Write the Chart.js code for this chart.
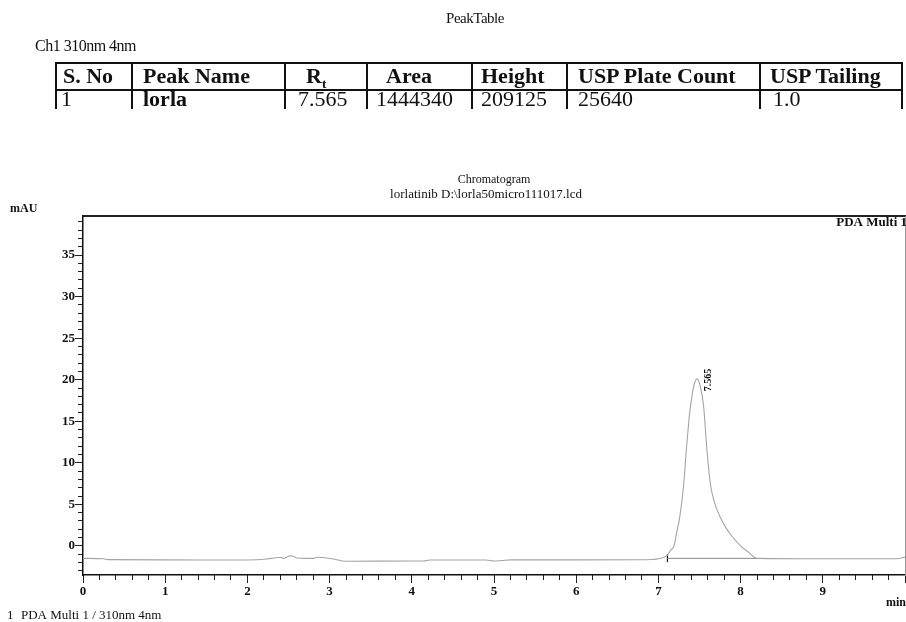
<!DOCTYPE html>
<html lang="en">
<head>
<meta charset="utf-8">
<title>PeakTable / Chromatogram</title>
<style>
body { margin: 0; background: #fff; }
#wrap { position: relative; width: 906px; height: 622px; overflow: hidden; font-family: "Liberation Serif", serif; color: #111; }
#canvas { position: absolute; left: 0; top: 0; }
.cap { position: absolute; white-space: nowrap; }
.sx { display: inline-block; transform: scaleX(1.1); transform-origin: left center; }
table { position: absolute; left: 55px; top: 62px; border-collapse: collapse; table-layout: fixed; width: 846px; }
td { box-sizing: border-box; border-left: 2px solid #111; border-right: 2px solid #111; padding: 0; white-space: nowrap; }
td div { overflow: hidden; }
tr.head td { font-size: 20px; font-weight: bold; border-top: 2px solid #111; border-bottom: 2px solid #111; }
tr.head div { height: 25px; line-height: 25px; }
tr.row td { font-size: 20px; }
tr.row div { height: 18px; line-height: 16px; }
sub { font-size: 12px; line-height: 0; }
</style>
</head>
<body>
<div id="wrap">
<canvas id="canvas" width="906" height="622"></canvas>
<div class="cap" style="left:0;width:950px;top:10px;text-align:center;font-size:15px;letter-spacing:-0.5px">PeakTable</div>
<div class="cap" style="left:35px;top:37px;font-size:16px;letter-spacing:-0.5px">Ch1 310nm 4nm</div>
<table id="peaks"></table>
</div>
<script src="https://cdn.jsdelivr.net/npm/chart.js"></script>
<script>

// peak table
let COLUMNS = ["S. No", "Peak Name", "R<sub>t</sub>", "Area", "Height", "USP Plate Count", "USP Tailing"]
let PEAK_ROW = ["1", "<b>lorla</b>", "7.565", "1444340", "209125", "25640", "1.0"]
let COL_WIDTHS = [76, 153, 82, 105, 95, 193, 142]
let COL_PADS = [6, 10, 20, 18, 8, 10, 9]
let ROW_PADS = [4, 10, 12, 8, 8, 10, 12]

// chromatogram trace (min, mAU)
let TIMES = [0, 0.25, 0.3, 1.0, 2.0, 2.24, 2.32, 2.4, 2.44, 2.48, 2.52, 2.56, 2.6, 2.7, 2.8, 2.86, 2.92, 3.05, 3.19, 4.0, 4.14, 4.22, 4.9, 5.0, 5.1, 5.2, 6.0, 6.85,
    7.0, 7.08, 7.11, 7.15, 7.19, 7.22, 7.26, 7.31, 7.34, 7.37, 7.39, 7.43, 7.47, 7.51, 7.55, 7.59, 7.63, 7.68, 7.75, 7.82, 7.9, 8.0, 8.1, 8.2,
    9.0, 9.9, 10.0]
let SIGNAL = [-1.5, -1.55, -1.65, -1.68, -1.7, -1.57, -1.45, -1.36, -1.5, -1.35, -1.2, -1.25, -1.45, -1.5, -1.5, -1.36, -1.4, -1.57, -1.85, -1.82, -1.82, -1.7, -1.7, -1.82, -1.75, -1.68, -1.68, -1.66,
    -1.55, -1.3, -1.1, -0.5, 0, 1.5, 3.5, 7.6, 11.6, 15, 16.8, 19.2, 20.1, 19.2, 16.8, 11.6, 7.6, 5.3, 3.5, 2.2, 1.1, 0, -0.8, -1.5,
    -1.55, -1.55, -1.35]

// integration baseline and its start mark
let BASE_TIMES = [7.11, 8.2]
let BASE_LEVEL = [-1.5, -1.5]
let MARK_TIMES = [7.11, 7.11]
let MARK_LEVEL = [-1.95, -1.0]

let PEAK_LABEL = "7.565"
let PEAK_APEX = [7.47, 20.1]

let X_LABELS = ["0", "1", "2", "3", "4", "5", "6", "7", "8", "9", ""]
let Y_LABELS = {0: "0", 5: "5", 10: "10", 15: "15", 20: "20", 25: "25", 30: "30", 35: "35"}

let TITLE = ["Chromatogram", "lorlatinib D:\\lorla50micro111017.lcd"]

// build the table
let tbl = document.getElementById("peaks")
let head = tbl.insertRow()
head.className = "head"
let body = tbl.insertRow()
body.className = "row"
COLUMNS.forEach((c, i) => {
    let h = head.insertCell()
    h.style.width = COL_WIDTHS[i] + "px"
    h.innerHTML = '<div style="padding-left:' + COL_PADS[i] + 'px"><span class="sx">' + c + '</span></div>'
    let d = body.insertCell()
    d.innerHTML = '<div style="padding-left:' + ROW_PADS[i] + 'px"><span class="sx">' + PEAK_ROW[i] + '</span></div>'
})

let xy = (xs, ys) => xs.map((t, i) => ({x: t, y: ys[i]}))

let fixSize = (w, h) => scale => {
    if (w != null) scale.width = w
    if (h != null) scale.height = h
}

let tickFont = {family: "Liberation Serif", size: 13, weight: "bold"}

let notes = {
    id: "notes",
    afterDraw(chart) {
        let {ctx, chartArea: a, scales: {x, y}} = chart
        ctx.save()
        ctx.fillStyle = "#111"
        ctx.textBaseline = "middle"
        ctx.textAlign = "center"
        let cx = (a.left + a.right) / 2
        ctx.font = "12px 'Liberation Serif'"
        ctx.fillText(TITLE[0], cx, a.top - 36)
        ctx.font = "13px 'Liberation Serif'"
        ctx.fillText(TITLE[1], cx - 8, a.top - 21)
        ctx.font = "bold 12px 'Liberation Serif'"
        ctx.textAlign = "left"
        ctx.fillText("mAU", 10, a.top - 7)
        ctx.textAlign = "right"
        ctx.font = "bold 13px 'Liberation Serif'"
        ctx.fillText("PDA Multi 1", a.right + 2, a.top + 7)
        ctx.font = "bold 12px 'Liberation Serif'"
        ctx.fillText("min", 906, 603)
        ctx.textAlign = "left"
        ctx.font = "13px 'Liberation Serif'"
        ctx.fillText("1", 7, 616)
        ctx.fillText("PDA Multi 1 / 310nm 4nm", 21, 616)
        // peak retention time label
        ctx.translate(x.getPixelForValue(PEAK_APEX[0]) + 11, y.getPixelForValue(PEAK_APEX[1]) + 1)
        ctx.rotate(-Math.PI / 2)
        ctx.textAlign = "center"
        ctx.font = "bold 10px 'Liberation Serif'"
        ctx.fillText(PEAK_LABEL, 0, 0)
        ctx.restore()
    }
}

let chart = new Chart(document.getElementById("canvas"), {
    type: "line",
    data: {
        datasets: [
            {
                data: xy(TIMES, SIGNAL),
                borderColor: "#a4a4a4",
                borderWidth: 1.1,
                pointRadius: 0,
                cubicInterpolationMode: "monotone",
            },
            {
                data: xy(BASE_TIMES, BASE_LEVEL),
                borderColor: "#8a8a8a",
                borderWidth: 1,
                pointRadius: 0,
            },
            {
                data: xy(MARK_TIMES, MARK_LEVEL),
                borderColor: "#111",
                borderWidth: 1.2,
                pointRadius: 0,
            },
        ]
    },
    options: {
        responsive: false,
        animation: false,
        layout: {padding: {top: 216, right: 1, left: 0, bottom: 0}},
        plugins: {legend: {display: false}, tooltip: {enabled: false}},
        scales: {
            x: {
                type: "linear", position: "bottom", min: 0, max: 10, weight: 2,
                ticks: {stepSize: 1, autoSkip: false, maxRotation: 0, padding: 1, color: "#111", font: tickFont,
                    callback: v => X_LABELS[Math.round(v)]},
                grid: {drawOnChartArea: false, tickLength: 8, color: "#222"},
                border: {color: "#111", width: 1.5},
                afterFit: fixSize(null, 47),
            },
            xMinor: {
                type: "linear", position: "bottom", min: 0, max: 10, weight: 1,
                ticks: {display: false, stepSize: 0.2, autoSkip: false, maxTicksLimit: 100},
                grid: {drawOnChartArea: false, tickLength: 5, color: "#222"},
                border: {display: false},
                afterFit: fixSize(null, 0),
            },
            xTop: {
                type: "linear", position: "top", min: 0, max: 10,
                ticks: {display: false},
                grid: {drawOnChartArea: false, drawTicks: false},
                border: {color: "#222", width: 2},
                afterFit: fixSize(null, 0),
            },
            y: {
                type: "linear", position: "left", min: -3.5, max: 39.7, weight: 2,
                ticks: {stepSize: 5, includeBounds: false, padding: 0, color: "#111", font: tickFont,
                    callback: v => Y_LABELS[v] ?? ""},
                grid: {drawOnChartArea: false, tickLength: 8, color: "#222"},
                border: {color: "#111", width: 1.5},
                afterFit: fixSize(83, null),
            },
            yMinor: {
                type: "linear", position: "left", min: -3.5, max: 39.7, weight: 1,
                ticks: {display: false, stepSize: 1, includeBounds: false, maxTicksLimit: 100},
                grid: {drawOnChartArea: false, tickLength: 5, color: "#222"},
                border: {display: false},
                afterFit: fixSize(0, null),
            },
            yRight: {
                type: "linear", position: "right", min: -3.5, max: 39.7,
                ticks: {display: false},
                grid: {drawOnChartArea: false, drawTicks: false},
                border: {color: "#999", width: 1},
                afterFit: fixSize(0, null),
            },
        }
    },
    plugins: [notes],
})

</script>
</body>
</html>
